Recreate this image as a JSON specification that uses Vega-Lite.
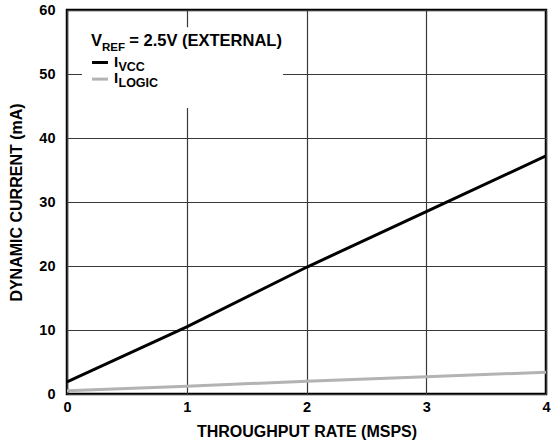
{
  "$schema": "https://vega.github.io/schema/vega-lite/v6.json",
  "width": 479,
  "height": 384,
  "autosize": {"type": "none"},
  "padding": {"left": 67, "top": 10, "right": 6, "bottom": 52},
  "background": "white",
  "config": {
    "view": {"stroke": "black", "strokeWidth": 2.5},
    "font": "Liberation Sans",
    "axis": {
      "domain": false,
      "ticks": false,
      "grid": true,
      "gridColor": "#3a3a3a",
      "gridWidth": 1.2,
      "labelFont": "Liberation Sans",
      "labelFontWeight": "bold",
      "labelFontSize": 14.5,
      "labelColor": "black",
      "titleFont": "Liberation Sans",
      "titleFontWeight": "bold",
      "titleFontSize": 16,
      "titleColor": "black"
    }
  },
  "datasets": {
    "curves": [
      {"rate": 0, "current": 1.9, "series": "I_VCC"},
      {"rate": 1, "current": 10.5, "series": "I_VCC"},
      {"rate": 2, "current": 19.8, "series": "I_VCC"},
      {"rate": 3, "current": 28.5, "series": "I_VCC"},
      {"rate": 4, "current": 37.2, "series": "I_VCC"},
      {"rate": 0, "current": 0.5, "series": "I_LOGIC"},
      {"rate": 1, "current": 1.2, "series": "I_LOGIC"},
      {"rate": 2, "current": 2.0, "series": "I_LOGIC"},
      {"rate": 3, "current": 2.7, "series": "I_LOGIC"},
      {"rate": 4, "current": 3.4, "series": "I_LOGIC"}
    ],
    "box": [{"x1": 0.125, "x2": 1.804, "y1": 44.7, "y2": 57.3}],
    "dashes": [
      {"x1": 0.209, "x2": 0.342, "y": 51.8, "series": "I_VCC"},
      {"x1": 0.209, "x2": 0.342, "y": 49.2, "series": "I_LOGIC"}
    ],
    "bigText": [
      {"x": 0.2, "y": 54.3, "label": "V"},
      {"x": 0.52, "y": 54.3, "label": "= 2.5V (EXTERNAL)"}
    ],
    "refSub": [{"x": 0.292, "y": 53.6, "label": "REF"}],
    "iText": [
      {"x": 0.392, "y": 51.1, "label": "I"},
      {"x": 0.392, "y": 48.6, "label": "I"}
    ],
    "iSub": [
      {"x": 0.43, "y": 50.4, "label": "VCC"},
      {"x": 0.43, "y": 47.9, "label": "LOGIC"}
    ]
  },
  "layer": [
    {
      "data": {"name": "box"},
      "mark": {"type": "rect", "fill": "white", "stroke": null},
      "encoding": {
        "x": {"field": "x1", "type": "quantitative", "scale": {"domain": [0, 4], "nice": false}, "axis": {"values": [0, 1, 2, 3, 4], "format": "d", "title": "THROUGHPUT RATE (MSPS)", "labelPadding": 6, "titlePadding": 10, "labelFlush": false}},
        "x2": {"field": "x2"},
        "y": {"field": "y1", "type": "quantitative", "scale": {"domain": [0, 60], "nice": false}, "axis": {"values": [0, 10, 20, 30, 40, 50, 60], "format": "d", "title": "DYNAMIC CURRENT (mA)", "labelPadding": 12, "titlePadding": 14}},
        "y2": {"field": "y2"}
      }
    },
    {
      "data": {"name": "curves"},
      "mark": {"type": "line", "strokeWidth": 3, "clip": true},
      "encoding": {
        "x": {"field": "rate", "type": "quantitative"},
        "y": {"field": "current", "type": "quantitative"},
        "color": {"field": "series", "type": "nominal", "scale": {"domain": ["I_VCC", "I_LOGIC"], "range": ["#000000", "#b3b3b3"]}, "legend": null}
      }
    },
    {
      "data": {"name": "dashes"},
      "mark": {"type": "rule", "strokeWidth": 3},
      "encoding": {
        "x": {"field": "x1", "type": "quantitative"},
        "x2": {"field": "x2"},
        "y": {"field": "y", "type": "quantitative"},
        "color": {"field": "series", "type": "nominal", "legend": null}
      }
    },
    {
      "data": {"name": "bigText"},
      "mark": {"type": "text", "fontSize": 16.5, "fontWeight": "bold", "align": "left", "baseline": "alphabetic", "color": "black"},
      "encoding": {
        "x": {"field": "x", "type": "quantitative"},
        "y": {"field": "y", "type": "quantitative"},
        "text": {"field": "label"}
      }
    },
    {
      "data": {"name": "refSub"},
      "mark": {"type": "text", "fontSize": 11.5, "fontWeight": "bold", "align": "left", "baseline": "alphabetic", "color": "black"},
      "encoding": {
        "x": {"field": "x", "type": "quantitative"},
        "y": {"field": "y", "type": "quantitative"},
        "text": {"field": "label"}
      }
    },
    {
      "data": {"name": "iText"},
      "mark": {"type": "text", "fontSize": 15, "fontWeight": "bold", "align": "left", "baseline": "alphabetic", "color": "black"},
      "encoding": {
        "x": {"field": "x", "type": "quantitative"},
        "y": {"field": "y", "type": "quantitative"},
        "text": {"field": "label"}
      }
    },
    {
      "data": {"name": "iSub"},
      "mark": {"type": "text", "fontSize": 12.5, "fontWeight": "bold", "align": "left", "baseline": "alphabetic", "color": "black"},
      "encoding": {
        "x": {"field": "x", "type": "quantitative"},
        "y": {"field": "y", "type": "quantitative"},
        "text": {"field": "label"}
      }
    }
  ]
}
